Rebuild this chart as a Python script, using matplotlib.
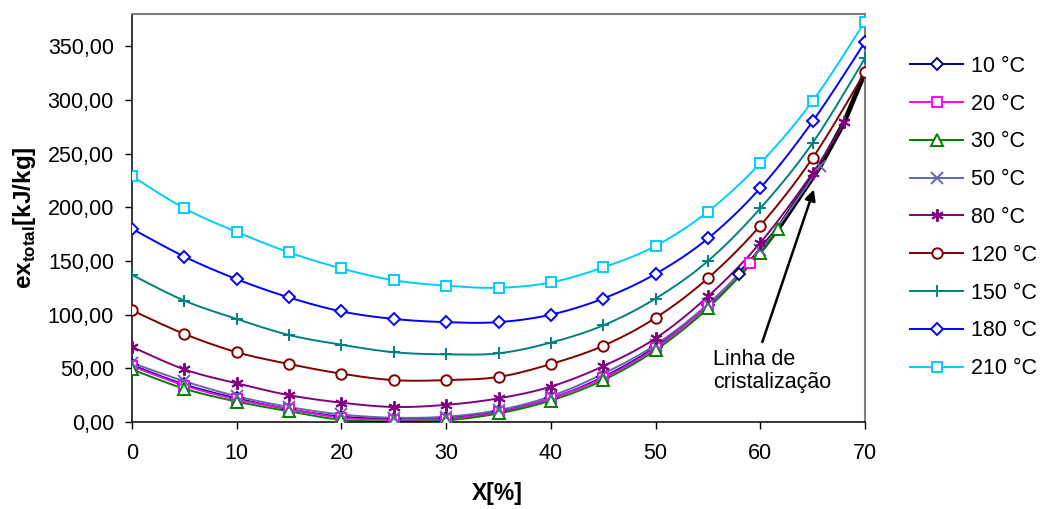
import matplotlib
matplotlib.use('Agg')
import matplotlib.pyplot as plt
import numpy as np

plt.rcParams['font.family'] = ['Liberation Sans', 'DejaVu Sans']
plt.rcParams['mathtext.fontset'] = 'custom'
plt.rcParams['mathtext.rm'] = 'Liberation Sans'
plt.rcParams['mathtext.bf'] = 'Liberation Sans:bold'

# concentration X [%] and total exergy [kJ/kg] for each temperature
x_std = [0, 5, 10, 15, 20, 25, 30, 35, 40, 45, 50, 55, 60, 65, 70]

x_10 = [0, 5, 10, 15, 20, 25, 30, 35, 40, 45, 50, 55, 58]
ex_10 = [53, 35, 22, 12, 5, 3, 4, 10, 22, 42, 70, 109, 138]

x_20 = [0, 5, 10, 15, 20, 25, 30, 35, 40, 45, 50, 55, 59]
ex_20 = [52, 34, 21, 12, 4, 2, 3, 9, 22, 41, 69, 108, 148]

x_30 = [0, 5, 10, 15, 20, 25, 30, 35, 40, 45, 50, 55, 60, 61.7]
ex_30 = [49, 31, 19, 10, 2, 0.5, 1.5, 8, 20, 39, 67, 106, 157, 180]

x_50 = [0, 5, 10, 15, 20, 25, 30, 35, 40, 45, 50, 55, 60, 65.7]
ex_50 = [55, 38, 24, 14, 7, 4, 5, 11, 24, 45, 72, 110, 160, 238]

x_80 = [0, 5, 10, 15, 20, 25, 30, 35, 40, 45, 50, 55, 60, 65, 68]
ex_80 = [70, 49, 36, 25, 18, 14, 16, 22, 33, 52, 78, 117, 167, 232, 279]

ex_120 = [104, 82, 65, 54, 45, 39, 39, 42, 54, 71, 97, 134, 183, 246, 326]
ex_150 = [137, 113, 96, 81, 72, 65, 63, 64, 74, 90, 115, 150, 199, 260, 339]
ex_180 = [180, 154, 133, 116, 103, 96, 93, 93, 100, 115, 138, 171, 218, 280, 354]
ex_210 = [229, 199, 177, 158, 143, 132, 127, 125, 130, 144, 164, 196, 241, 299, 373]

labels = ['10 °C', '20 °C', '30 °C', '50 °C', '80 °C', '120 °C', '150 °C', '180 °C', '210 °C']
xs = [x_10, x_20, x_30, x_50, x_80, x_std, x_std, x_std, x_std]
ys = [ex_10, ex_20, ex_30, ex_50, ex_80, ex_120, ex_150, ex_180, ex_210]
colors = ['#000080', '#FF00FF', '#008000', '#6666A8', '#800080',
          '#800000', '#008080', '#0000FF', '#00CCFF']
markers = ['D', 's', '^', 'x', (6, 2, 0), 'o', '+', 'D', 's']
msizes = [6.5, 7.5, 8, 8, 9, 7.5, 9, 6.5, 7.5]


def smooth(x, y, n=24):
    # Bezier smoothing, control points at +-(P[i+1]-P[i-1])/6
    p = np.column_stack([x, y]).astype(float)
    ext = np.vstack([p[0], p, p[-1]])
    out = [p[:1]]
    t = np.linspace(0, 1, n)[1:, None]
    for i in range(len(p) - 1):
        p0, p1 = ext[i + 1], ext[i + 2]
        c0 = p0 + (ext[i + 2] - ext[i]) / 6
        c1 = p1 - (ext[i + 3] - ext[i + 1]) / 6
        seg = ((1 - t) ** 3) * p0 + 3 * ((1 - t) ** 2) * t * c0 + 3 * (1 - t) * t ** 2 * c1 + t ** 3 * p1
        out.append(seg)
    q = np.vstack(out)
    return q[:, 0], q[:, 1]


fig = plt.figure(figsize=(10.41, 5.09), dpi=100)
ax = fig.add_axes([0.1268, 0.1709, 0.7042, 0.8016])

# crystallization line through the last point of the low-temperature curves
cx = [x_10[-1], x_20[-1], x_30[-1], x_50[-1], x_80[-1], x_std[-1]]
cy = [ex_10[-1], ex_20[-1], ex_30[-1], ex_50[-1], ex_80[-1], ex_120[-1]]
ax.plot(cx, cy, color='black', lw=3.5, zorder=1.5, solid_capstyle='round')

handles = []
for x, y, c, m, ms, lab in zip(xs, ys, colors, markers, msizes, labels):
    sx, sy = smooth(x, y)
    ax.plot(sx, sy, color=c, lw=1.4, zorder=2)
    ax.plot(x, y, linestyle='none', marker=m, markersize=ms, markeredgecolor=c,
            markerfacecolor='white', markeredgewidth=1.4, zorder=3)
    h, = ax.plot([], [], color=c, lw=1.4, marker=m, markersize=ms,
                 markeredgecolor=c, markerfacecolor='white', markeredgewidth=1.4, label=lab)
    handles.append(h)

ax.annotate('', xy=(65.2, 219), xytext=(60.1, 72),
            arrowprops=dict(arrowstyle='-|>', lw=1.8, color='black', mutation_scale=16))
ax.text(55.5, 68, 'Linha de\ncristalização', fontsize=15.5, ha='left', va='top', linespacing=1.15)

ax.set_xlim(0, 70)
ax.set_ylim(0, 380)
ax.set_xticks(range(0, 71, 10))
yt = list(range(0, 351, 50))
ax.set_yticks(yt)
ax.set_yticklabels([f'{v:.2f}'.replace('.', ',') for v in yt])
ax.tick_params(axis='both', direction='out', length=5, width=1, labelsize=15.5)
ax.tick_params(axis='x', pad=10)
ax.tick_params(axis='y', pad=8)
for s in ['left', 'bottom']:
    ax.spines[s].set_color('black')
    ax.spines[s].set_linewidth(1.1)
for s in ['top', 'right']:
    ax.spines[s].set_color('#808080')
    ax.spines[s].set_linewidth(1.5)

fig.text(0.0235, 0.573, r'ex$_{\mathbf{total}}$[kJ/kg]', rotation=90, ha='center', va='center',
         fontsize=17.5, fontweight='bold')
fig.text(0.478, 0.031, 'X[%]', ha='center', va='center', fontsize=16.5, fontweight='bold')

fig.legend(handles=handles, loc='center left', bbox_to_anchor=(0.8552, 0.5727), frameon=False,
           fontsize=15.5, handlelength=2.5, handletextpad=0.35, labelspacing=0.78, borderpad=0.4)

fig.savefig('out.png', dpi=100)
